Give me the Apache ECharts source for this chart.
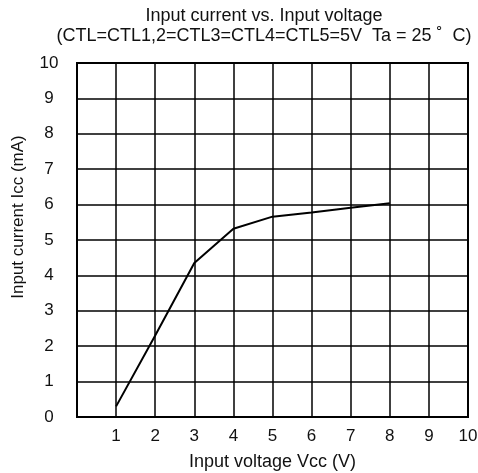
<!DOCTYPE html>
<html>
<head>
<meta charset="utf-8">
<script src="https://cdn.jsdelivr.net/npm/echarts@6/dist/echarts.min.js"></script>
<style>
  html, body { margin: 0; padding: 0; background: #fff; }
  #chart { width: 478px; height: 473px; }
</style>
</head>
<body>
<div id="chart"></div>
<script>
const voltage = [1, 2, 3, 4, 5, 6, 7, 8]
const current = [0.3, 2.3, 4.35, 5.32, 5.66, 5.78, 5.91, 6.04]

const chart = echarts.init(document.getElementById('chart'))
const font = 'Liberation Sans, Arial, sans-serif'

chart.setOption({
  animation: false,
  title: {
    text: 'Input current vs. Input voltage\n(CTL=CTL1,2=CTL3=CTL4=CTL5=5V  Ta = 25 \u02da  C)',
    left: 259,
    top: 1,
    textAlign: 'center',
    textStyle: {
      fontFamily: font,
      fontSize: 18,
      fontWeight: 'normal',
      color: '#111',
      lineHeight: 20
    }
  },
  grid: { left: 77, right: 10, top: 63, bottom: 56, outerBoundsMode: 'none', containLabel: false },
  xAxis: {
    type: 'value',
    min: 0,
    max: 10,
    interval: 1,
    name: 'Input voltage Vcc (V)',
    nameLocation: 'middle',
    nameGap: 36,
    nameTextStyle: { fontFamily: font, fontSize: 18, color: '#111' },
    axisLine: { show: true, lineStyle: { color: '#000', width: 2 } },
    axisTick: { show: false },
    axisLabel: {
      fontFamily: font, fontSize: 17, color: '#111', margin: 11,
      formatter: v => (v === 0 ? '' : String(v))
    },
    splitLine: { show: true, lineStyle: { color: '#000', width: 1.5 } }
  },
  yAxis: {
    type: 'value',
    min: 0,
    max: 10,
    interval: 1,
    name: 'Input current Icc (mA)',
    nameLocation: 'middle',
    nameGap: 50,
    nameTextStyle: { fontFamily: font, fontSize: 17, color: '#111', padding: [0, 0, 0, 46] },
    axisLine: { show: true, lineStyle: { color: '#000', width: 2 } },
    axisTick: { show: false },
    axisLabel: { fontFamily: font, fontSize: 17, color: '#111', margin: 28, align: 'center' },
    splitLine: { show: true, lineStyle: { color: '#000', width: 1.5 } }
  },
  graphic: [{
    // right and top frame of the plot
    type: 'rect',
    shape: { x: 77, y: 63, width: 391, height: 354 },
    style: { fill: 'none', stroke: '#000', lineWidth: 2 },
    silent: true,
    z: 10
  }],
  series: [{
    type: 'line',
    data: voltage.map((v, i) => [v, current[i]]),
    showSymbol: false,
    lineStyle: { color: '#000', width: 2 },
    z: 5
  }]
})
</script>
</body>
</html>
